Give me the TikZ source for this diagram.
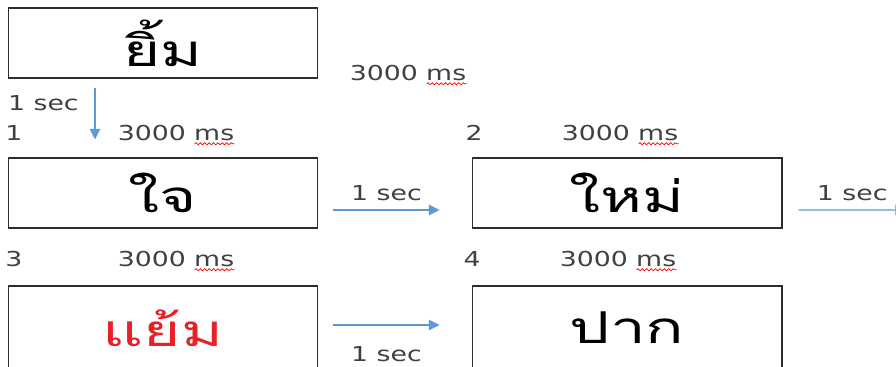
\documentclass[tikz,border=0pt]{standalone}
\usepackage{fontspec}
\usetikzlibrary{arrows.meta, positioning, decorations.pathmorphing}
\setmainfont{DejaVu Sans}[FakeStretch=1.3]
\newfontfamily\thaifont[Script=Thai, FakeStretch=1.45]{Loma}
\definecolor{linkblue}{RGB}{91, 155, 213}
\definecolor{boxgray}{RGB}{45, 45, 45}
\definecolor{wordred}{RGB}{232, 32, 40}
\definecolor{labelgray}{RGB}{64, 64, 64}

\begin{document}
\begin{tikzpicture}[
    x=0.02cm, y=-0.02cm,
    word/.style={rectangle, draw=boxgray, line width=0.6pt, minimum width=6.2cm, minimum height=1.4cm, inner sep=0pt, font=\thaifont\fontsize{25}{25}\selectfont},
    lowword/.style={word, minimum height=1.68cm},
    lbl/.style={font=\fontsize{11.7}{14}\selectfont, text=labelgray, inner sep=0pt},
    arrow/.style={linkblue, line width=0.6pt, -{Triangle[length=6pt, width=6pt]}},
    squiggle/.style={red, line width=0.4pt, decorate, decoration={snake, amplitude=0.6pt, segment length=2.5pt}}
]
\useasboundingbox (0, 0) rectangle (896, 367);
\clip (0, 0) rectangle (896, 367);

% cue word
\node[word] (cue) at (163, 43) {ยิ้ม};
\node[lbl] (cuetime) at (408, 73) {3000 ms};

% words 1-4
\node[word] (jai) at (163, 193) {ใจ};
\node[word] (mai) at (627, 193) {ใหม่};
\node[lowword, text=wordred] (yaem) at (163, 328) {แย้ม};
\node[lowword] (pak) at (627, 328) {ปาก};

% numbers and times
\node[lbl] (num1) at (14, 133) {1};
\node[lbl] (time1) at (176, 133) {3000 ms};
\node[lbl] (num2) at (474, 133) {2};
\node[lbl] (time2) at (620, 133) {3000 ms};
\node[lbl] (num3) at (14, 259) {3};
\node[lbl] (time3) at (176, 259) {3000 ms};
\node[lbl] (num4) at (472, 259) {4};
\node[lbl] (time4) at (618, 259) {3000 ms};

% spell-check marks under ms
\foreach \t in {cuetime, time1, time2, time3, time4}
  \draw[squiggle] ([xshift=-0.8cm, yshift=-1.5pt]\t.south east) -- ([yshift=-1.5pt]\t.south east);

% arrows
\coordinate (offpage) at (906, 210);
\draw[arrow] ([xshift=-1.36cm, yshift=-0.18cm]cue.south) -- node[lbl, left=9pt, pos=0.3] {1 sec} ([xshift=-1.36cm, yshift=0.36cm]jai.north);
\draw[arrow] ([xshift=0.3cm, yshift=-0.34cm]jai.east) -- node[lbl, above=5pt] {1 sec} ([xshift=-0.64cm, yshift=-0.34cm]mai.west);
\draw[arrow] ([xshift=0.32cm, yshift=-0.34cm]mai.east) -- node[lbl, above=5pt, pos=0.5] {1 sec} (offpage);
\draw[arrow] ([xshift=0.3cm, yshift=0.06cm]yaem.east) -- node[lbl, below=12pt] {1 sec} ([xshift=-0.64cm, yshift=0.06cm]pak.west);
\end{tikzpicture}
\end{document}
